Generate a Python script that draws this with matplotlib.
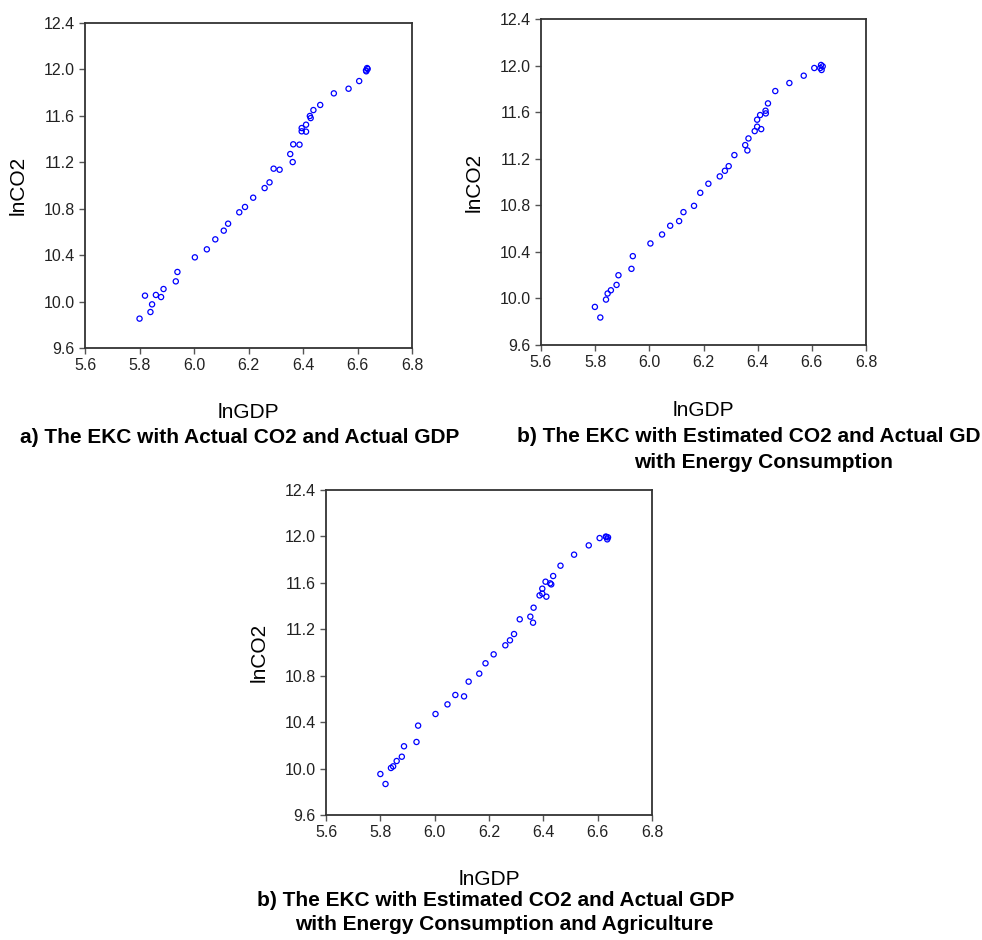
import matplotlib.pyplot as plt

plt.rcParams['font.family'] = ['Liberation Sans', 'DejaVu Sans']

# panel a) actual CO2 vs actual GDP
gdp_a = [5.800, 5.820, 5.840, 5.846, 5.860, 5.879, 5.888, 5.933, 5.939, 6.003,
         6.047, 6.078, 6.109, 6.125, 6.166, 6.187, 6.217, 6.259, 6.277, 6.292,
         6.314, 6.353, 6.362, 6.364, 6.387, 6.395, 6.395, 6.411, 6.411, 6.425,
         6.428, 6.438, 6.463, 6.513, 6.567, 6.606, 6.631, 6.635, 6.632, 6.637]
co2_a = [9.853, 10.051, 9.910, 9.976, 10.057, 10.039, 10.108, 10.174, 10.255, 10.381,
         10.450, 10.536, 10.611, 10.671, 10.769, 10.815, 10.895, 10.978, 11.027, 11.145,
         11.136, 11.271, 11.202, 11.355, 11.352, 11.495, 11.467, 11.524, 11.464, 11.599,
         11.581, 11.650, 11.694, 11.794, 11.834, 11.900, 11.992, 12.012, 11.984, 12.004]

# panel b) estimated CO2 with energy consumption
gdp_b = [5.799, 5.819, 5.840, 5.846, 5.858, 5.879, 5.886, 5.934, 5.939, 6.004,
         6.047, 6.077, 6.110, 6.126, 6.165, 6.188, 6.218, 6.260, 6.279, 6.293,
         6.314, 6.354, 6.362, 6.366, 6.389, 6.398, 6.398, 6.413, 6.409, 6.429,
         6.430, 6.438, 6.465, 6.517, 6.570, 6.609, 6.634, 6.631, 6.640, 6.636]
co2_b = [9.927, 9.836, 9.990, 10.042, 10.070, 10.116, 10.199, 10.254, 10.363, 10.472,
         10.549, 10.624, 10.664, 10.741, 10.795, 10.907, 10.985, 11.048, 11.096, 11.136,
         11.231, 11.317, 11.271, 11.374, 11.437, 11.475, 11.535, 11.454, 11.575, 11.612,
         11.589, 11.675, 11.781, 11.850, 11.913, 11.979, 12.005, 11.979, 11.993, 11.962]

# panel c) estimated CO2 with energy consumption and agriculture
gdp_c = [5.800, 5.819, 5.839, 5.847, 5.860, 5.879, 5.887, 5.933, 5.939, 6.003,
         6.047, 6.076, 6.108, 6.125, 6.164, 6.187, 6.217, 6.260, 6.277, 6.292,
         6.313, 6.352, 6.362, 6.364, 6.386, 6.396, 6.396, 6.411, 6.408, 6.425,
         6.429, 6.436, 6.463, 6.513, 6.567, 6.607, 6.630, 6.635, 6.638, 6.632]
co2_c = [9.953, 9.867, 10.005, 10.019, 10.065, 10.102, 10.192, 10.229, 10.370, 10.470,
         10.553, 10.634, 10.622, 10.749, 10.818, 10.907, 10.984, 11.062, 11.105, 11.159,
         11.286, 11.309, 11.257, 11.386, 11.492, 11.507, 11.550, 11.481, 11.610, 11.596,
         11.587, 11.659, 11.748, 11.843, 11.923, 11.986, 11.999, 11.975, 11.992, 11.995]

xticks = [5.6, 5.8, 6.0, 6.2, 6.4, 6.6, 6.8]
yticks = [9.6, 10.0, 10.4, 10.8, 11.2, 11.6, 12.0, 12.4]

fig = plt.figure(figsize=(9.82, 9.40), dpi=100)

axes_pos = [
    [0.0866, 0.6298, 0.333, 0.3457],
    [0.5509, 0.6330, 0.331, 0.3468],
    [0.3320, 0.1330, 0.332, 0.3457],
]
data = [(gdp_a, co2_a), (gdp_b, co2_b), (gdp_c, co2_c)]

for pos, (x, y) in zip(axes_pos, data):
    ax = fig.add_axes(pos)
    ax.scatter(x, y, s=14, facecolors='none', edgecolors='#0000ff', linewidths=0.9)
    ax.set_xlim(5.6, 6.8)
    ax.set_ylim(9.6, 12.4)
    ax.set_xticks(xticks)
    ax.set_yticks(yticks)
    ax.set_xticklabels([f'{v:.1f}' for v in xticks])
    ax.set_yticklabels([f'{v:.1f}' for v in yticks])
    ax.tick_params(direction='out', length=4, width=1, color='#555555',
                   labelsize=11.5, labelcolor='#222222', pad=3.5)
    for sp in ax.spines.values():
        sp.set_color('#333333')
        sp.set_linewidth(1.3)
    ax.set_xlabel('lnGDP', fontsize=15)
    ax.set_ylabel('lnCO2', fontsize=15)
    ax.xaxis.set_label_coords(0.5, -0.2)
    ax.yaxis.set_label_coords(-0.205, 0.5)
    ax.xaxis.label.set_va('center')
    ax.yaxis.label.set_va('center')

cap = dict(va='center', fontsize=15, fontweight='bold')
fig.text(240 / 982, 1 - 438 / 940, 'a) The EKC with Actual CO2 and Actual GDP',
         ha='center', **cap)
fig.text(517 / 982, 1 - 437 / 940, 'b) The EKC with Estimated CO2 and Actual GD',
         ha='left', **cap)
fig.text(763 / 982, 1 - 463 / 940, 'with Energy Consumption',
         ha='center', **cap)
fig.text(496 / 982, 1 - 900 / 940, 'b) The EKC with Estimated CO2 and Actual GDP',
         ha='center', **cap)
fig.text(504 / 982, 1 - 924 / 940, 'with Energy Consumption and Agriculture',
         ha='center', **cap)

fig.savefig('out.png', dpi=100)
